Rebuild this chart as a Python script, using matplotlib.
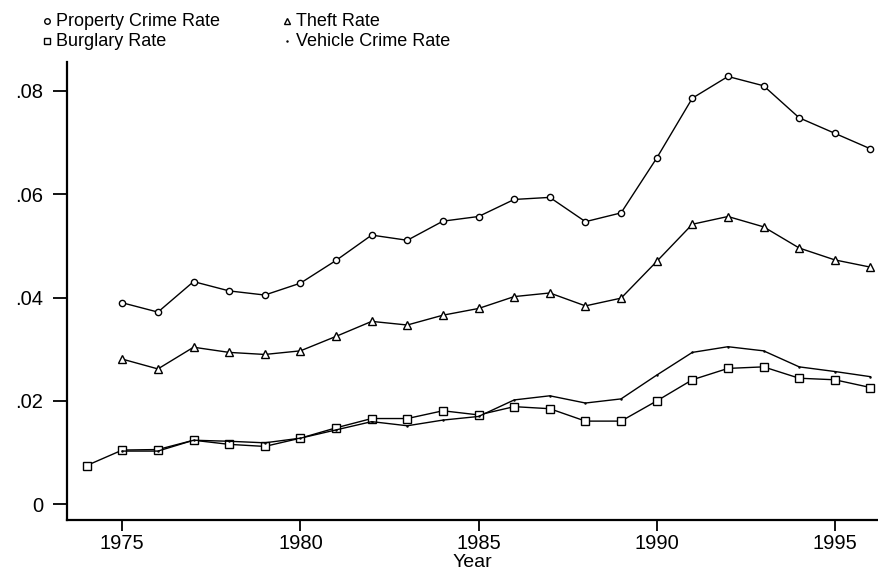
import matplotlib
matplotlib.use("Agg")
import matplotlib.pyplot as plt
from matplotlib.lines import Line2D

# ============================================================
# DATA
# ============================================================

years = list(range(1974, 1997))

property_rate = [None, 0.0390, 0.0372, 0.0431, 0.0413, 0.0405, 0.0428, 0.0472,
                 0.0521, 0.0511, 0.0548, 0.0557, 0.0590, 0.0594, 0.0547, 0.0564,
                 0.0670, 0.0786, 0.0828, 0.0810, 0.0748, 0.0718, 0.0688]

theft_rate = [None, 0.0281, 0.0262, 0.0304, 0.0294, 0.0290, 0.0297, 0.0325,
              0.0354, 0.0347, 0.0366, 0.0379, 0.0402, 0.0409, 0.0384, 0.0399,
              0.0470, 0.0542, 0.0557, 0.0537, 0.0496, 0.0473, 0.0459]

burglary_rate = [0.0075, 0.0105, 0.0106, 0.0124, 0.0116, 0.0112, 0.0128, 0.0148,
                 0.0166, 0.0166, 0.0181, 0.0173, 0.0189, 0.0185, 0.0161, 0.0161,
                 0.0200, 0.0241, 0.0263, 0.0266, 0.0244, 0.0241, 0.0226]

vehicle_rate = [None, 0.0103, 0.0103, 0.0124, 0.0122, 0.0119, 0.0128, 0.0144,
                0.0160, 0.0152, 0.0163, 0.0170, 0.0202, 0.0210, 0.0196, 0.0204,
                0.0250, 0.0294, 0.0305, 0.0297, 0.0266, 0.0257, 0.0247]

yticks = [0, 0.02, 0.04, 0.06, 0.08]
ytick_labels = ["0", ".02", ".04", ".06", ".08"]
xticks = [1975, 1980, 1985, 1990, 1995]


def clean(vals):
    return [float("nan") if v is None else v for v in vals]


# ============================================================
# PLOT
# ============================================================

plt.rcParams["font.family"] = ["Liberation Sans", "DejaVu Sans"]

W, H = 879, 571
fig = plt.figure(figsize=(W / 100, H / 100), dpi=100)
ax = fig.add_axes([0.0759, 0.0893, 0.9241, 0.8021])

mk = dict(color="black", lw=1.0, mfc="white", mec="black", mew=1.0)

ax.plot(years, clean(property_rate), marker="o", ms=4.5, **mk)
ax.plot(years, clean(theft_rate), marker="^", ms=5.5, **mk)
ax.plot(years, clean(burglary_rate), marker="s", ms=5.5, **mk)
ax.plot(years, clean(vehicle_rate), marker=".", ms=1.5, **mk)

ax.set_xlim(1973.44, 1996.24)
ax.set_ylim(-0.00304, 0.0856)

ax.set_xticks(xticks)
ax.set_yticks(yticks)
ax.set_yticklabels(ytick_labels)

for s in ["top", "right"]:
    ax.spines[s].set_visible(False)
for s in ["left", "bottom"]:
    ax.spines[s].set_linewidth(1.6)

ax.tick_params(axis="both", labelsize=14.5, width=1.3, color="black")
ax.tick_params(axis="x", length=8, pad=2)
ax.tick_params(axis="y", length=10, pad=7)

ax.set_xlabel("Year", fontsize=14, labelpad=1)

# legend, drawn by hand in two columns at the top
legend_items = [
    ("Property Crime Rate", "o", 47, 21),
    ("Burglary Rate", "s", 47, 41),
    ("Theft Rate", "^", 287, 21),
    ("Vehicle Crime Rate", ".", 287, 41),
]
for label, m, px, py in legend_items:
    fx, fy = px / W, 1 - py / H
    fig.add_artist(Line2D([fx], [fy], transform=fig.transFigure, marker=m,
                          ms=4 if m != "." else 1.5, mfc="white", mec="black",
                          mew=1.0, ls="none"))
    fig.text(fx + 9 / W, fy, label, fontsize=13, ha="left", va="center")

fig.savefig("out.png", dpi=100)
